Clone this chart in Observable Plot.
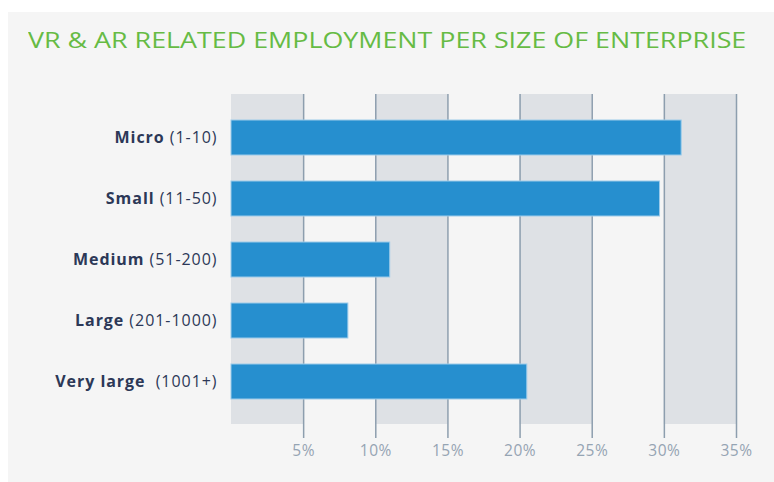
<!DOCTYPE html>
<html>
<head>
<meta charset="utf-8">
<script src="https://cdn.jsdelivr.net/npm/d3@7"></script>
<script src="https://cdn.jsdelivr.net/npm/@observablehq/plot@0.6"></script>
<style>
  html, body { margin: 0; padding: 0; background: #ffffff; }
  #panel { position: absolute; left: 8px; top: 12px; width: 766px; height: 470px; background: #f5f5f5; overflow: hidden; }
  #title { height: 70px; box-sizing: border-box; padding: 12px 0 0 20px; white-space: nowrap; }
  #title span { display: inline-block; font-family: "Open Sans", sans-serif; font-size: 22px; color: #66bb44; transform: scaleX(1.22); transform-origin: left center; }
  #chart svg { display: block; }
</style>
</head>
<body>
<div id="panel">
  <div id="title"><span>VR &amp; AR RELATED EMPLOYMENT PER SIZE OF ENTERPRISE</span></div>
  <div id="chart"></div>
</div>
<script>
const categories = ["Micro", "Small", "Medium", "Large", "Very large"];
const ranges = ["(1-10)", "(11-50)", "(51-200)", "(201-1000)", "(1001+)"];
const values = [31.2, 29.7, 11.0, 8.1, 20.5];
const tickValues = [5, 10, 15, 20, 25, 30, 35];
const bandStarts = [0, 10, 20, 30];
const bandWidth = 5;

const data = categories.map((c, i) => ({category: c, range: ranges[i], value: values[i]}));
const bands = bandStarts.map(s => ({x1: s, x2: s + bandWidth}));

const plot = Plot.plot({
  width: 766,
  height: 400,
  marginTop: 12,
  marginBottom: 58,
  marginLeft: 223,
  marginRight: 38,
  style: {background: "transparent", fontFamily: "'Open Sans', sans-serif"},
  x: {domain: [0, 35]},
  y: {domain: categories, paddingInner: 0.43, paddingOuter: 0.39},
  marks: [
    Plot.rect(bands, {x1: "x1", x2: "x2", fill: "#dee1e5"}),
    Plot.ruleX(tickValues, {stroke: "#8d9eae", strokeWidth: 1.5}),
    Plot.barX(data, {x: "value", y: "category", fill: "#268fcf", stroke: "#9ccbea", strokeWidth: 1}),
    Plot.axisX({ticks: tickValues, tickFormat: d => d + "%", tickSize: 14, tickPadding: 6, stroke: "#8d9eae", strokeWidth: 1.5, color: "#95a4b3", fontSize: 15.5, label: null}),
    Plot.axisY({tickSize: 0, tickPadding: 14, color: "#2c3857", fontSize: 16, label: null})
  ]
});
document.getElementById("chart").appendChild(plot);

d3.select(plot).selectAll("[aria-label='x-axis tick label'] text").style("letter-spacing", "0.5px");

// split y tick labels into bold category + regular range
const rangeOf = new Map(data.map(d => [d.category, d.range]));
d3.select(plot).selectAll("[aria-label='y-axis tick label'] text").each(function() {
  const name = this.textContent;
  const r = rangeOf.get(name);
  if (!r) return;
  const sel = d3.select(this).text(null).style("white-space", "pre").style("letter-spacing", "0.95px");
  sel.append("tspan").attr("font-weight", "bold").text(name);
  sel.append("tspan").attr("font-weight", "normal").text((name === "Very large" ? "  " : " ") + r);
});
</script>
</body>
</html>
